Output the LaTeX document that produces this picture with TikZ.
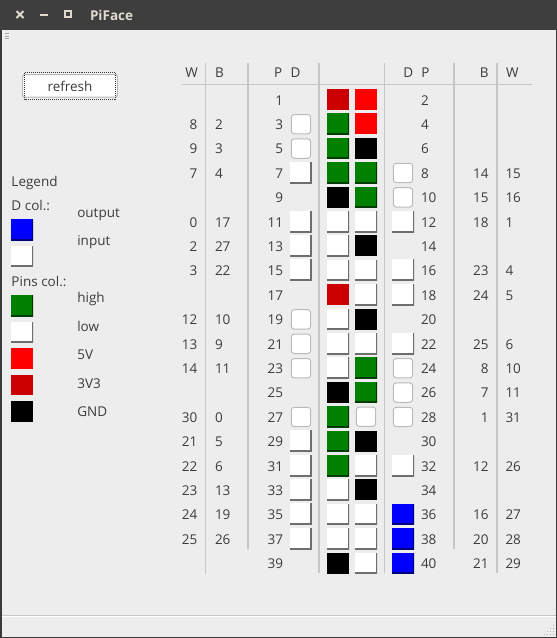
\documentclass[tikz,border=0pt]{standalone}
\usepackage{fontspec}
\setmainfont{Open Sans}
\definecolor{bg}{HTML}{EDEDED}
\definecolor{titlebar}{HTML}{3E3E3E}
\definecolor{titletxt}{HTML}{DFDBD2}
\definecolor{fg}{HTML}{3C3C3C}
\definecolor{gridc}{HTML}{C6C6C6}
\definecolor{pinred}{HTML}{FF0000}
\definecolor{pindred}{HTML}{CC0000}
\definecolor{pingreen}{HTML}{008000}
\definecolor{pinblue}{HTML}{0000FF}
\definecolor{shadowgrey}{HTML}{6E6E6E}
\definecolor{shadowgreen}{HTML}{003C00}
\definecolor{shadowblue}{HTML}{00007A}
\definecolor{roundedge}{HTML}{BBBBBB}
\definecolor{framec}{HTML}{3A3A3A}
\begin{document}
\begin{tikzpicture}[x=1pt,y=-1pt,
  every node/.style={inner sep=0pt,outer sep=0pt},
  declare function={rowy(\r)=99.8+24.4*(\r-1);},
  txt/.style={font=\fontsize{13.5}{16}\selectfont, text=fg},
  tre/.style={txt,anchor=base east},
  trw/.style={txt,anchor=base west},
  hdr/.style={txt,anchor=base},
  raised/.style 2 args={fill=#1, path picture={\draw[line width=3,#2]
     (path picture bounding box.north east) -- (path picture bounding box.south east)
     -- (path picture bounding box.south west);}},
  roundbox/.style={draw=roundedge, fill=white, line width=1, rounded corners=3,
     minimum width=19.4, minimum height=19.4},
  pinbox/.style={minimum width=22, minimum height=21},
  pin-dr/.style={fill=pindred},
  pin-r/.style={fill=pinred},
  pin-k/.style={fill=black},
  pin-g/.style={raised={pingreen}{shadowgreen}},
  pin-w/.style={raised={white}{shadowgrey}},
  pin-f/.style={roundbox},
  pin-u/.style={raised={pinblue}{shadowblue}},
  gridline/.style={draw=gridc, line width=1.2},
]
\useasboundingbox (0,0) rectangle (557,638);
\fill[bg] (0,0) rectangle (557,638);
% title bar
\fill[titlebar] (0,0) rectangle (557,30);
\draw[titletxt, line width=2] (16.5,11) -- (23.5,18) (16.5,18) -- (23.5,11);
\draw[titletxt, line width=2] (40,14.5) -- (48,14.5);
\draw[titletxt, line width=1.8] (65,11.3) rectangle (71,17);
\node[anchor=base west, font=\fontsize{13.5}{16}\selectfont\bfseries, text=titletxt] (title) at (90,20.6) {PiFace};
% window frame
\draw[framec, line width=1.5] (0.75,30) -- (0.75,637.25) -- (556.25,637.25) -- (556.25,30);
% grip top-left
\foreach \g in {33.5,36.2,38.9} \draw[gray!70, line width=0.9] (5,\g) -- (9,\g);
% status separator and resize grip
\draw[gray!45, line width=1] (1.5,615.5) -- (555.5,615.5);
\draw[white, line width=1] (1.5,616.5) -- (555.5,616.5);
\foreach \a/\b in {0/0,1/0,2/0,3/0,0/1,1/1,2/1,0/2,1/2,0/3}
  \fill[gray!60] ({552.5-3*\a},{633.5-3*\b}) rectangle ++(1.2,1.2);

% refresh button
\node[draw=gray!55, fill=white, rounded corners=1.5, line width=1,
      minimum width=94.6, minimum height=22.3] (refresh) at (70,85.85) {};
\draw[fg, line width=0.8, dash pattern=on 1pt off 1pt] ([shift={(2,-2)}]refresh.north west) rectangle ([shift={(-2,2)}]refresh.south east);
\node[hdr] (refreshlbl) at (70,91.7) {refresh};

% legend
\node[trw] (legend) at (11.5,186.7) {Legend};
\node[trw] (dcol) at (11.5,210) {D col.:};
\node[trw] (output) at (77.3,217.3) {output};
\node[trw] (input) at (77.3,245.7) {input};
\node[trw] (pinscol) at (11.5,286) {Pins col.:};
\node[trw] (high) at (77.3,302.7) {high};
\node[trw] (low) at (77.3,331.7) {low};
\node[trw] (fivev) at (77.3,359.3) {5V};
\node[trw] (threev) at (77.3,388.3) {3V3};
\node[trw] (gnd) at (77.3,416.7) {GND};
\node[minimum width=22, minimum height=21, pin-u] (lgout) at (22,229.5) {};
\node[minimum width=22, minimum height=20, pin-w] (lgin) at (22,256) {};
\node[minimum width=22, minimum height=21, pin-g] (lghigh) at (22,305.5) {};
\node[minimum width=22, minimum height=20, pin-w] (lglow) at (22,332) {};
\node[minimum width=22, minimum height=21, pin-r] (lg5v) at (22,358.5) {};
\node[minimum width=22, minimum height=20, pin-dr] (lg3v3) at (22,385) {};
\node[minimum width=22, minimum height=21, pin-k] (lggnd) at (22,411.5) {};

% grid lines
\draw[gridline] (181.5,84.3) -- (531.5,84.3);
\draw[gridline] (205.7,63) -- (205.7,574);
\draw[gridline] (248,63) -- (248,549);
\draw[gridline] (319,63) -- (319,573);
\draw[gridline] (384.3,63) -- (384.3,573);
\draw[gridline] (454,63) -- (454,549);
\draw[gridline] (497,63) -- (497,573);

% headers
\node[hdr] (hLW) at (191.7,77.5) {W};
\node[hdr] (hLB) at (219.5,77.5) {B};
\node[hdr] (hLP) at (278.3,77.5) {P};
\node[hdr] (hLD) at (295.5,77.5) {D};
\node[hdr] (hRD) at (408.3,77.5) {D};
\node[hdr] (hRP) at (425.5,77.5) {P};
\node[hdr] (hRB) at (484.3,77.5) {B};
\node[hdr] (hRW) at (512.3,77.5) {W};

% pin numbers
\foreach \r in {1,...,20}{
  \pgfmathtruncatemacro\po{2*\r-1}
  \pgfmathtruncatemacro\pe{2*\r}
  \node[tre] (lp\r) at (283,{rowy(\r)+5.2}) {\po};
  \node[trw] (rp\r) at (421,{rowy(\r)+5.2}) {\pe};
}
% left W / B
\foreach \r/\v in {2/8,3/9,4/7,6/0,7/2,8/3,10/12,11/13,12/14,14/30,15/21,16/22,17/23,18/24,19/25}
  \node[tre] (lw\r) at (197.3,{rowy(\r)+5.2}) {\v};
\foreach \r/\v in {2/2,3/3,4/4,6/17,7/27,8/22,10/10,11/9,12/11,14/0,15/5,16/6,17/13,18/19,19/26}
  \node[trw] (lb\r) at (215,{rowy(\r)+5.2}) {\v};
% right B / W
\foreach \r/\v in {4/14,5/15,6/18,8/23,9/24,11/25,12/8,13/7,14/1,16/12,18/16,19/20,20/21}
  \node[tre] (rb\r) at (488.5,{rowy(\r)+5.2}) {\v};
\foreach \r/\v in {4/15,5/16,6/1,8/4,9/5,11/6,12/10,13/11,14/31,16/26,18/27,19/28,20/29}
  \node[trw] (rw\r) at (505.5,{rowy(\r)+5.2}) {\v};

% pin state boxes
\foreach \r/\c in {1/dr,2/g,3/g,4/g,5/k,6/w,7/w,8/w,9/dr,10/w,11/w,12/w,13/k,14/g,15/g,16/g,17/w,18/w,19/w,20/k}
  \node[pinbox,pin-\c] (lpin\r) at (338,{rowy(\r)-0.3}) {};
\foreach \r/\c in {1/r,2/r,3/k,4/g,5/g,6/w,7/k,8/w,9/w,10/k,11/w,12/g,13/g,14/f,15/k,16/w,17/k,18/w,19/w,20/w}
  \node[pinbox,pin-\c] (rpin\r) at (366,{rowy(\r)-0.3}) {};

% direction boxes
\foreach \r in {2,3,10,11,12,14}
  \node[roundbox] (ld\r) at (301,{rowy(\r)}) {};
\foreach \r in {4,6,7,8,15,16,17,18,19}
  \node[minimum width=22, minimum height=21.6, pin-w] (ld\r) at (300.9,{rowy(\r)-0.5}) {};
\foreach \r in {4,5,12,13,14}
  \node[roundbox] (rd\r) at (403,{rowy(\r)}) {};
\foreach \r in {6,8,9,11,16}
  \node[minimum width=22, minimum height=21.6, pin-w] (rd\r) at (403,{rowy(\r)-0.5}) {};
\foreach \r in {18,19,20}
  \node[pinbox, pin-u] (rd\r) at (403,{rowy(\r)-0.3}) {};
\end{tikzpicture}
\end{document}
